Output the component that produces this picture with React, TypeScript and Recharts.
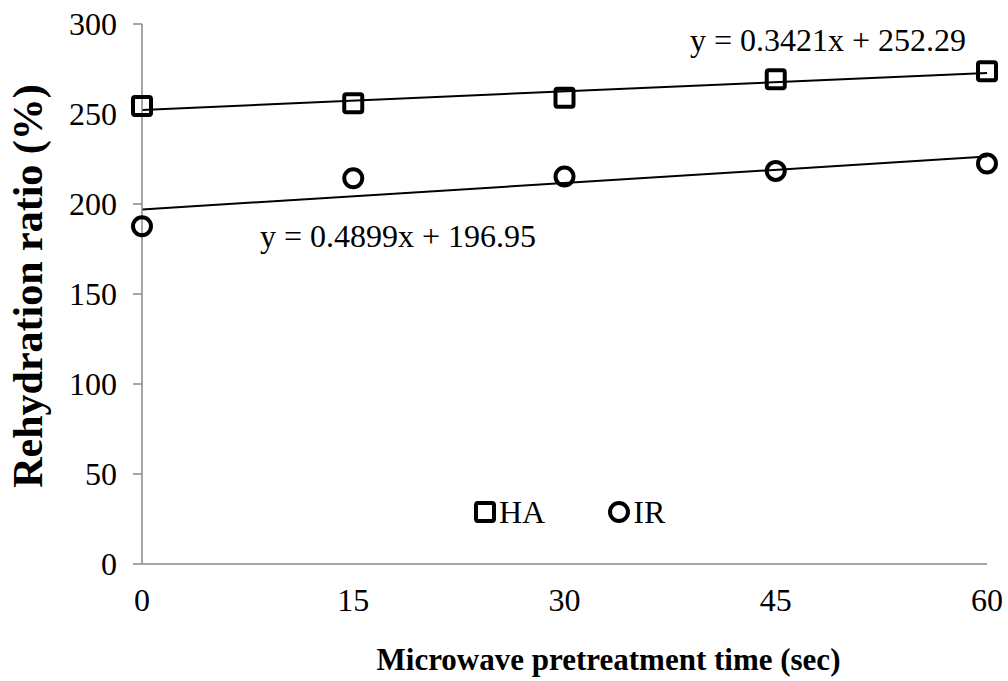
import { ComposedChart, Scatter, Line, XAxis, YAxis } from "recharts";

const times = [0, 15, 30, 45, 60];
const haValues = [254.5, 256, 259, 269.3, 273.8];
const irValues = [187.6, 214.3, 215.3, 218.4, 222.5];

// trendline end points (x = 0 and x = 60)
const trendTimes = [0, 60];
const haTrend = [252.29, 272.82];
const irTrend = [196.95, 226.34];

const yTicks = [0, 50, 100, 150, 200, 250, 300];
const seriesNames = ["HA", "IR"];

const FONT = '"Liberation Serif", "Times New Roman", serif';

const haData = times.map((t, i) => ({ x: t, y: haValues[i] }));
const irData = times.map((t, i) => ({ x: t, y: irValues[i] }));
const haLine = trendTimes.map((t, i) => ({ x: t, y: haTrend[i] }));
const irLine = trendTimes.map((t, i) => ({ x: t, y: irTrend[i] }));

const SquareMark = (p: any) => (
  <rect x={p.cx - 9} y={p.cy - 9} width={18} height={18} rx={2} fill="none" stroke="#000" strokeWidth={4} />
);
const CircleMark = (p: any) => (
  <circle cx={p.cx} cy={p.cy} r={9} fill="none" stroke="#000" strokeWidth={4} />
);

export default function App() {
  return (
    <div style={{ position: "absolute", left: 0, top: 0, width: 1008, height: 681, background: "#fff", fontFamily: FONT }}>
      <ComposedChart width={1008} height={681} margin={{ top: 24, right: 21, bottom: 0, left: 0 }}>
        <XAxis
          dataKey="x"
          type="number"
          domain={[0, 60]}
          ticks={times}
          height={117}
          tickLine={false}
          tickSize={8}
          tickMargin={16}
          stroke="#898989"
          strokeWidth={1.5}
          tick={{ fill: "#000", fontSize: 32, fontFamily: FONT }}
          label={{
            value: "Microwave pretreatment time (sec)",
            position: "insideBottom",
            offset: 11,
            dx: 44,
            style: { fill: "#000", fontSize: 31, fontWeight: "bold", fontFamily: FONT },
          }}
        />
        <YAxis
          dataKey="y"
          type="number"
          domain={[0, 300]}
          ticks={yTicks}
          width={142}
          tickSize={9}
          tickMargin={16}
          stroke="#898989"
          strokeWidth={1.5}
          tick={{ fill: "#000", fontSize: 32, fontFamily: FONT }}
          label={{
            value: "Rehydration ratio (%)",
            angle: -90,
            position: "insideLeft",
            offset: 27,
            dy: -8,
            style: { textAnchor: "middle", fill: "#000", fontSize: 42, fontWeight: "bold", fontFamily: FONT },
          }}
        />
        <Scatter name="HA" data={haData} shape={SquareMark} isAnimationActive={false} />
        <Scatter name="IR" data={irData} shape={CircleMark} isAnimationActive={false} />
        <Line data={haLine} dataKey="y" stroke="#000" strokeWidth={2} dot={false} isAnimationActive={false} />
        <Line data={irLine} dataKey="y" stroke="#000" strokeWidth={2} dot={false} isAnimationActive={false} />
      </ComposedChart>

      <div style={{ position: "absolute", left: 690, top: 22, fontSize: 32, lineHeight: "36px", whiteSpace: "nowrap" }}>
        y = 0.3421x + 252.29
      </div>
      <div style={{ position: "absolute", left: 260, top: 218, fontSize: 32, lineHeight: "36px", whiteSpace: "nowrap" }}>
        y = 0.4899x + 196.95
      </div>

      <div style={{ position: "absolute", left: 473, top: 494, display: "flex", alignItems: "center", fontSize: 32, lineHeight: "36px" }}>
        {seriesNames.map((name, i) => (
          <div key={name} style={{ display: "flex", alignItems: "center", marginRight: i === 0 ? 62 : 0 }}>
            <svg width={24} height={24} style={{ marginRight: 2 }}>
              {i === 0 ? (
                <rect x={3} y={3} width={18} height={18} rx={2} fill="none" stroke="#000" strokeWidth={4} />
              ) : (
                <circle cx={12} cy={12} r={9} fill="none" stroke="#000" strokeWidth={4} />
              )}
            </svg>
            <span>{name}</span>
          </div>
        ))}
      </div>
    </div>
  );
}
